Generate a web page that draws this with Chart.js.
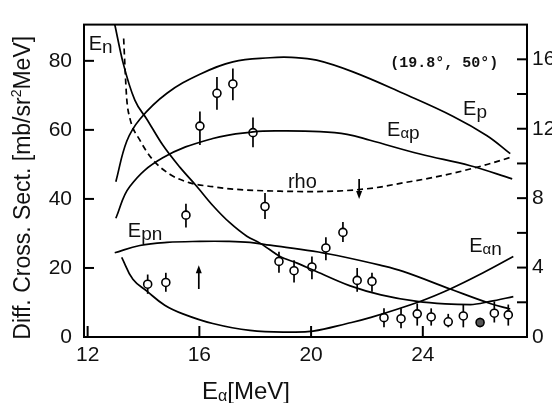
<!DOCTYPE html>
<html><head><meta charset="utf-8">
<script src="https://cdn.jsdelivr.net/npm/chart.js@4/dist/chart.umd.min.js"></script>
<style>html,body{margin:0;padding:0;background:#fff;}#wrap{width:552px;height:403px;}</style>
</head><body><div id="wrap"><canvas id="c" width="552" height="403"></canvas></div>
<script>
// ---- data (left axis: mb/sr^2MeV, right axis: rho) ----
const epX  = [13.01,13.40,13.87,14.84,16.02,17.20,18.53,19.30,20.20,21.50,23.29,25.09,26.30,27.13];
const epY  = [45.0,56.7,63.1,70.6,76.1,79.7,80.9,81.0,80.2,76.8,70.6,63.9,58.3,53.1];
const eapX = [13.01,13.51,14.69,16.48,17.92,18.89,20.32,21.29,22.11,23.90,25.70,27.20];
const eapY = [34.4,43.6,51.9,57.5,59.4,59.7,59.5,58.7,57.0,53.0,49.6,45.8];
const enX  = [12.97,13.26,13.69,14.12,14.69,15.30,15.91,16.48,17.09,17.70,18.17,18.50,18.89,19.50,20.07,21.40,22.50,23.80,24.80,25.70,26.41,27.24];
const enY  = [90.6,79.7,68.6,63.1,55.6,49.2,43.6,38.1,33.1,29.2,27.2,25.4,23.3,21.4,19.4,14.8,12.2,10.3,9.6,9.4,10.3,11.7];
const epnX = [12.97,13.87,14.84,16.02,17.00,17.81,18.53,20.07,20.93,22.47,23.29,24.98,26.41,27.13];
const epnY = [24.4,26.5,27.4,27.7,27.7,27.4,26.6,24.9,23.6,20.8,19.0,13.9,9.7,8.1];
const eanX = [13.22,13.62,14.12,14.76,15.41,16.48,17.81,19.24,20.07,21.29,22.11,23.90,24.98,26.16,27.24];
const eanY = [23.1,16.7,13.3,9.2,6.7,3.9,1.9,1.4,1.7,3.9,5.6,10.3,13.9,18.6,23.3];
const rhoX = [13.29,13.33,13.40,13.51,13.87,14.33,14.94,15.66,16.48,17.20,18.89,20.00,21.29,22.30,23.29,24.20,25.09,26.30,27.20];
const rhoY = [17.2,15.8,13.72,12.62,11.34,10.22,9.38,8.88,8.66,8.52,8.40,8.38,8.44,8.60,8.88,9.14,9.44,9.94,10.38];
// measured points with error bars
const ptX   = [14.15,14.80,15.52,16.02,16.63,17.20,17.92,18.35,18.85,19.39,20.03,20.53,21.14,21.65,22.18,22.61,23.22,23.80,24.30,24.91,25.45,26.05,26.56,27.06];
const ptY   = [15.3,15.8,35.3,61.1,70.6,73.3,59.2,37.8,21.9,19.2,20.3,25.8,30.3,16.4,16.1,5.6,5.3,6.7,5.8,4.4,6.1,4.2,6.9,6.4];
const errHi = [18.1,18.6,38.6,65.3,75.3,77.8,63.6,41.7,24.7,22.2,23.3,28.9,33.3,20.0,18.6,8.3,8.3,9.7,8.3,6.7,9.4,5.6,10.3,9.4];
const errLo = [12.5,13.1,31.7,55.6,65.8,68.6,55.0,34.2,18.6,15.8,16.7,22.2,27.5,13.1,13.1,2.8,2.5,3.3,3.3,2.8,2.8,2.8,4.2,3.3];
// limits (arrows): from limY0 to limY1 (head at limY1)
const limX  = [15.98,21.72];
const limY0 = [13.9,45.8];
const limY1 = [20.8,40.0];
// tick labels
const xTickLabels = [12,16,20,24];
const yLeftTickLabels = [0,20,40,60,80];
const yRightTickLabels = [0,4,8,12,16];

const SANS = '"Liberation Sans", Arial, Helvetica, sans-serif';
const xy = (xs, ys) => xs.map((v,i)=>({x:v,y:ys[i]}));
const curve = (xs, ys, axis, mono, dash) => Object.assign({type:'line', data:xy(xs,ys), yAxisID:axis, borderColor:'#000', borderWidth:1.7,
  borderDash:dash||[], pointRadius:0, fill:false}, mono?{cubicInterpolationMode:'monotone'}:{tension:0.4});

const curveLabels = [
  {main:'E', sub:'n',  x:12.04, y:83.1},
  {main:'E', sub:'p',  x:25.44, y:64.2},
  {main:'E', sub:'αp', x:22.72, y:58.3},
  {main:'rho', sub:'', x:19.17, y:43.1},
  {main:'E', sub:'pn', x:13.44, y:28.9},
  {main:'E', sub:'αn', x:25.66, y:24.7}
];
const angleLabel = {text:'(19.8°, 50°)', x:22.83, y:78.3};

const decor = {
  id:'decor',
  beforeDatasetsDraw(chart){
    const {ctx, scales:{x,y}} = chart;
    ctx.save();
    ctx.strokeStyle='#000'; ctx.lineWidth=1.7;
    for(let i=0;i<ptX.length;i++){
      const px=x.getPixelForValue(ptX[i]);
      ctx.beginPath();
      ctx.moveTo(px,y.getPixelForValue(errLo[i]));
      ctx.lineTo(px,y.getPixelForValue(errHi[i]));
      ctx.stroke();
    }
    ctx.fillStyle='#000';
    for(let i=0;i<limX.length;i++){
      const px=x.getPixelForValue(limX[i]);
      const p0=y.getPixelForValue(limY0[i]), p1=y.getPixelForValue(limY1[i]);
      const dir=Math.sign(p1-p0);
      ctx.beginPath(); ctx.moveTo(px,p0); ctx.lineTo(px,p1-dir*5); ctx.stroke();
      ctx.beginPath(); ctx.moveTo(px,p1); ctx.lineTo(px-3,p1-dir*8); ctx.lineTo(px+3,p1-dir*8); ctx.closePath(); ctx.fill();
    }
    ctx.restore();
  },
  afterDraw(chart){
    const {ctx, chartArea:a, scales:{x,y,y2}} = chart;
    ctx.save();
    ctx.strokeStyle='#000'; ctx.lineWidth=2;
    ctx.strokeRect(a.left,a.top,a.right-a.left,a.bottom-a.top);
    x.ticks.forEach(t=>{const p=x.getPixelForValue(t.value); if(p>a.left+3&&p<a.right-3){ctx.beginPath();ctx.moveTo(p,a.bottom);ctx.lineTo(p,a.bottom-11);ctx.stroke();}});
    y.ticks.forEach(t=>{const p=y.getPixelForValue(t.value); if(p<a.bottom-3&&p>a.top+3){ctx.beginPath();ctx.moveTo(a.left,p);ctx.lineTo(a.left+10,p);ctx.stroke();}});
    y2.ticks.forEach(t=>{const p=y2.getPixelForValue(t.value); if(p<a.bottom-3&&p>a.top+3){ctx.beginPath();ctx.moveTo(a.right,p);ctx.lineTo(a.right-10,p);ctx.stroke();}});
    // curve labels
    ctx.fillStyle='#111'; ctx.textBaseline='alphabetic'; ctx.textAlign='left';
    curveLabels.forEach(l=>{
      let px=x.getPixelForValue(l.x); const py=y.getPixelForValue(l.y);
      ctx.font='20px '+SANS; ctx.fillText(l.main,px,py); px+=ctx.measureText(l.main).width;
      for(const ch of l.sub){
        const greek = ch==='α';
        ctx.font=(greek?'15px ':'19px ')+SANS;
        ctx.fillText(ch,px,py+(greek?2:3)); px+=ctx.measureText(ch).width;
      }
    });
    ctx.font='bold 15px "Liberation Mono", "Courier New", monospace';
    ctx.fillText(angleLabel.text, x.getPixelForValue(angleLabel.x), y.getPixelForValue(angleLabel.y));
    // x title
    let tx=a.left+118; const ty=399;
    ctx.font='24px '+SANS; ctx.fillText('E',tx,ty); tx+=ctx.measureText('E').width;
    ctx.font='16px '+SANS; ctx.fillText('α',tx,ty+2); tx+=ctx.measureText('α').width;
    ctx.font='24px '+SANS; ctx.fillText('[MeV]',tx,ty);
    // y title
    ctx.translate(24,(a.top+a.bottom)/2+7); ctx.rotate(-Math.PI/2);
    const p1='Diff. Cross. Sect. [mb/sr', p2='2', p3='MeV]';
    ctx.font='23px '+SANS; const w1=ctx.measureText(p1).width, w3=ctx.measureText(p3).width;
    ctx.font='14px '+SANS; const w2=ctx.measureText(p2).width;
    let sx=-(w1+w2+w3)/2; ctx.textBaseline='middle';
    ctx.font='23px '+SANS; ctx.fillText(p1,sx,0); sx+=w1;
    ctx.font='14px '+SANS; ctx.fillText(p2,sx,-7); sx+=w2;
    ctx.font='23px '+SANS; ctx.fillText(p3,sx,0);
    ctx.restore();
  }
};

const tickFont = {family:SANS, size:21};
new Chart(document.getElementById('c'), {
  data:{datasets:[
    curve(epX,epY,'y'), curve(eapX,eapY,'y'), curve(enX,enY,'y',true),
    curve(epnX,epnY,'y'), curve(eanX,eanY,'y'), curve(rhoX,rhoY,'y2',true,[6,4]),
    {type:'scatter', data:xy(ptX,ptY), yAxisID:'y', pointRadius:4, pointBorderWidth:1.6,
     pointBorderColor:'#000', pointBackgroundColor:ptX.map((v,i)=>i===21?'#555':'#fff')}
  ]},
  options:{
    responsive:false, animation:false, devicePixelRatio:1,
    layout:{padding:{top:11,left:0,right:0,bottom:0}},
    plugins:{legend:{display:false}, tooltip:{enabled:false}},
    scales:{
      x:{type:'linear', min:11.87, max:27.73,
         ticks:{stepSize:4, includeBounds:false, font:tickFont, color:'#111', padding:6, maxRotation:0,
                callback:v=>xTickLabels.includes(v)?String(v):''},
         grid:{display:false, drawTicks:false}, border:{display:false},
         afterFit(s){s.height=66;}},
      y:{type:'linear', position:'left', min:0, max:90.5,
         ticks:{stepSize:20, includeBounds:false, font:tickFont, color:'#111', padding:12,
                callback:v=>yLeftTickLabels.includes(v)?String(v):''},
         grid:{display:false, drawTicks:false}, border:{display:false},
         afterFit(s){s.width=84;}},
      y2:{type:'linear', position:'right', min:0, max:18,
         ticks:{stepSize:2, includeBounds:false, font:tickFont, color:'#111', padding:5,
                callback:v=>yRightTickLabels.includes(v)?String(v):''},
         grid:{display:false, drawTicks:false}, border:{display:false},
         afterFit(s){s.width=25;}}
    }
  },
  plugins:[decor]
});
</script></body></html>
